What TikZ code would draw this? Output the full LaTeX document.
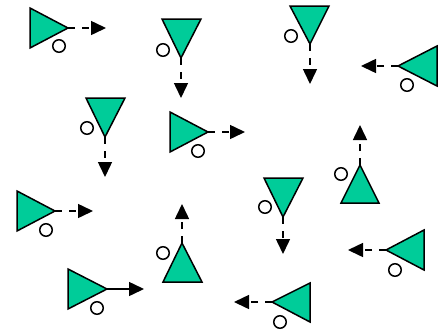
\documentclass[tikz,border=0pt]{standalone}
\usetikzlibrary{arrows.meta}
\definecolor{teal1}{RGB}{0,204,153}
\begin{document}
\begin{tikzpicture}[x=1pt,y=-1pt,
  tri/.style={draw=black,fill=teal1,line width=1.5pt,line join=miter},
  ring/.style={circle,draw=black,fill=white,line width=1.5pt,minimum size=12.5pt,inner sep=0pt,outer sep=0pt},
  darr/.style={line width=1.5pt,dash pattern=on 7pt off 7pt,-{Triangle[length=15pt,width=14pt]}},
  sarr/.style={line width=1.5pt,-{Triangle[length=15pt,width=14pt]}}]
\useasboundingbox (0,0) rectangle (445,333);
% 1 right
\draw[tri] (30,8) -- (68,28) -- (30,48) -- cycle;
\coordinate (a1) at (68,28); \coordinate (b1) at (106,28);
\node[ring] (c1) at (59,46) {};
\draw[darr] (a1) -- (b1);
% 2 down
\draw[tri] (162,19) -- (201,19) -- (181,58) -- cycle;
\coordinate (a2) at (181,58); \coordinate (b2) at (181,98);
\node[ring] (c2) at (163,50) {};
\draw[darr] (a2) -- (b2);
% 3 down
\draw[tri] (290,6) -- (329,6) -- (310,44) -- cycle;
\coordinate (a3) at (310,44); \coordinate (b3) at (310,84);
\node[ring] (c3) at (291,36) {};
\draw[darr] (a3) -- (b3);
% 4 left
\draw[tri] (437,46) -- (398,66) -- (437,86) -- cycle;
\coordinate (a4) at (398,66); \coordinate (b4) at (361,66);
\node[ring] (c4) at (407,85) {};
\draw[darr] (a4) -- (b4);
% 5 down
\draw[tri] (86,98) -- (125,98) -- (105,137) -- cycle;
\coordinate (a5) at (105,137); \coordinate (b5) at (105,177);
\node[ring] (c5) at (87,128) {};
\draw[darr] (a5) -- (b5);
% 6 right
\draw[tri] (170,112) -- (208,132) -- (170,152) -- cycle;
\coordinate (a6) at (208,132); \coordinate (b6) at (245,132);
\node[ring] (c6) at (198,151) {};
\draw[darr] (a6) -- (b6);
% 7 up
\draw[tri] (341,203) -- (360,165) -- (379,203) -- cycle;
\coordinate (a7) at (360,165); \coordinate (b7) at (360,125);
\node[ring] (c7) at (341,174) {};
\draw[darr] (a7) -- (b7);
% 8 right
\draw[tri] (17,191) -- (55,211) -- (17,231) -- cycle;
\coordinate (a8) at (55,211); \coordinate (b8) at (93,211);
\node[ring] (c8) at (46,230) {};
\draw[darr] (a8) -- (b8);
% 9 down
\draw[tri] (264,178) -- (303,178) -- (283,217) -- cycle;
\coordinate (a9) at (283,217); \coordinate (b9) at (283,254);
\node[ring] (c9) at (265,207) {};
\draw[darr] (a9) -- (b9);
% 10 up
\draw[tri] (163,282) -- (182,243) -- (202,282) -- cycle;
\coordinate (a10) at (182,243); \coordinate (b10) at (182,204);
\node[ring] (c10) at (163,253) {};
\draw[darr] (a10) -- (b10);
% 11 right
\draw[tri] (68,269) -- (107,289) -- (68,309) -- cycle;
\coordinate (a11) at (107,289); \coordinate (b11) at (144,289);
\node[ring] (c11) at (97,308) {};
\draw[sarr] (a11) -- (b11);
% 12 left
\draw[tri] (310,283) -- (272,302) -- (310,322) -- cycle;
\coordinate (a12) at (272,302); \coordinate (b12) at (234,302);
\node[ring] (c12) at (280,322) {};
\draw[darr] (a12) -- (b12);
% 13 left
\draw[tri] (424,230) -- (386,250) -- (424,270) -- cycle;
\coordinate (a13) at (386,250); \coordinate (b13) at (348,250);
\node[ring] (c13) at (395,270) {};
\draw[darr] (a13) -- (b13);
\end{tikzpicture}
\end{document}
